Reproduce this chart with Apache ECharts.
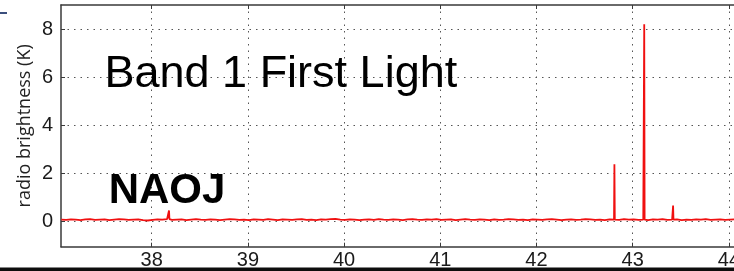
<!DOCTYPE html>
<html>
<head>
<meta charset="utf-8">
<style>
  html, body { margin: 0; padding: 0; background: #fff; }
  #chart { width: 734px; height: 271px; }
</style>
<script src="https://cdn.jsdelivr.net/npm/echarts@6/dist/echarts.min.js"></script>
</head>
<body>
<div id="chart"></div>
<script>
// ---- data ----
var titleText = "Band 1 First Light";
var logoText = "NAOJ";
var yAxisName = "radio brightness (K)";
var xTicks = [38, 39, 40, 41, 42, 43, 44];
var yTicks = [0, 2, 4, 6, 8];
var freqStart = 37.06;   // GHz, first channel shown
var freqStep = 0.05;     // GHz, channel spacing of the baseline samples
var baseline = [
  0.07,0.06,0.08,0.07,0.05,0.08,0.09,0.06,0.07,0.08,
  0.05,0.07,0.09,0.08,0.06,0.07,0.08,0.05,0.03,0.06,
  0.08,0.07,0.09,0.06,0.07,0.08,0.05,0.07,0.09,0.07,
  0.06,0.08,0.07,0.05,0.07,0.09,0.08,0.06,0.07,0.05,
  0.08,0.07,0.06,0.09,0.07,0.05,0.08,0.07,0.06,0.08,
  0.09,0.06,0.07,0.05,0.08,0.07,0.09,0.10,0.07,0.06,
  0.08,0.07,0.05,0.07,0.08,0.06,0.09,0.07,0.06,0.08,
  0.07,0.05,0.08,0.09,0.07,0.06,0.08,0.07,0.09,0.06,
  0.07,0.08,0.05,0.07,0.09,0.07,0.06,0.08,0.07,0.05,
  0.08,0.06,0.07,0.09,0.08,0.06,0.07,0.05,0.08,0.07,
  0.06,0.08,0.09,0.07,0.05,0.07,0.08,0.06,0.07,0.09,
  0.08,0.06,0.07,0.05,0.08,0.07,0.06,0.09,0.07,0.08,
  0.06,0.07,0.05,0.08,0.07,0.09,0.06,0.07,0.08,0.05,
  0.07,0.06,0.08,0.07,0.09,0.06,0.07,0.08,0.06,0.07,
  0.08
];
var spikeFreqs = [38.18, 42.81, 43.12, 43.42];
var spikeHeights = [0.45, 2.37, 8.20, 0.65];

// ---- build the line from the arrays ----
var pts = [];
for (var i = 0; i < baseline.length; i++) {
  pts.push([+(freqStart + i * freqStep).toFixed(4), baseline[i]]);
}
for (var s = 0; s < spikeFreqs.length; s++) {
  var f = spikeFreqs[s];
  var idx = Math.round((f - freqStart) / freqStep);
  var b = baseline[Math.max(0, Math.min(baseline.length - 1, idx))];
  pts.push([f - 0.004, b]);
  pts.push([f, spikeHeights[s]]);
  pts.push([f + 0.004, b]);
}
pts.sort(function (a, c) { return a[0] - c[0]; });

var X_MIN = 37.057, X_MAX = 44.1, Y_MIN = -1.06, Y_MAX = 9.0;
var labelFont = 'Liberation Sans';
var frame = { show: true, onZero: false, lineStyle: { color: '#3a3a3a', width: 1.5 } };

var chart = echarts.init(document.getElementById('chart'), null, { renderer: 'canvas' });
chart.setOption({
  animation: false,
  backgroundColor: '#ffffff',
  grid: { left: 61, top: 5, bottom: 24.3, right: -4.5, show: false, outerBoundsMode: 'none', containLabel: false },
  xAxis: [{
    type: 'value', min: X_MIN, max: X_MAX, minInterval: 1, maxInterval: 1,
    axisLine: frame,
    axisTick: { show: true, inside: true, length: 4, customValues: xTicks, lineStyle: { color: '#3a3a3a', width: 1 } },
    axisLabel: { customValues: xTicks, margin: 4, hideOverlap: false,
      fontFamily: labelFont, fontSize: 20, color: '#1a1a1a' },
    splitLine: { show: true, lineStyle: { color: '#555', type: [1.5, 5], width: 1 } }
  }, {
    type: 'value', position: 'top', min: X_MIN, max: X_MAX, minInterval: 1, maxInterval: 1,
    axisLine: frame,
    axisTick: { show: true, inside: true, length: 4, customValues: xTicks, lineStyle: { color: '#3a3a3a', width: 1 } },
    axisLabel: { show: false },
    splitLine: { show: false }
  }],
  yAxis: {
    type: 'value', min: Y_MIN, max: Y_MAX, minInterval: 2, maxInterval: 2,
    name: yAxisName, nameLocation: 'middle', nameGap: 27, nameMoveOverlap: false,
    nameTextStyle: { fontFamily: 'Open Sans', fontSize: 18, color: '#222' },
    axisLine: frame,
    axisTick: { show: true, inside: true, length: 4, customValues: yTicks, lineStyle: { color: '#3a3a3a', width: 1 } },
    axisLabel: { customValues: yTicks, margin: 8, fontFamily: labelFont, fontSize: 20, color: '#1a1a1a' },
    splitLine: { show: true, lineStyle: { color: '#555', type: [1.5, 5], width: 1 } }
  },
  series: [{
    type: 'line',
    xAxisIndex: 0,
    data: pts,
    showSymbol: false,
    symbol: 'none',
    lineStyle: { color: '#f01010', width: 1.8 },
    clip: true,
    z: 3
  }],
  graphic: [
    { type: 'text', x: 104.5, y: 74.7, z: 10,
      style: { text: titleText, font: '45px "Liberation Sans"', fill: '#000', textAlign: 'left', textVerticalAlign: 'middle' } },
    { type: 'text', x: 108.7, y: 191.7, z: 10,
      style: { text: logoText, font: 'bold 42px "Liberation Sans"', fill: '#000', textAlign: 'left', textVerticalAlign: 'middle' } },
    { type: 'rect', shape: { x: 0, y: 267.5, width: 734, height: 4 }, style: { fill: '#0d0d0d' }, z: 20 },
    { type: 'rect', shape: { x: 0, y: 12, width: 7, height: 2 }, style: { fill: '#3b4f7d' }, z: 20 }
  ]
});
</script>
</body>
</html>
